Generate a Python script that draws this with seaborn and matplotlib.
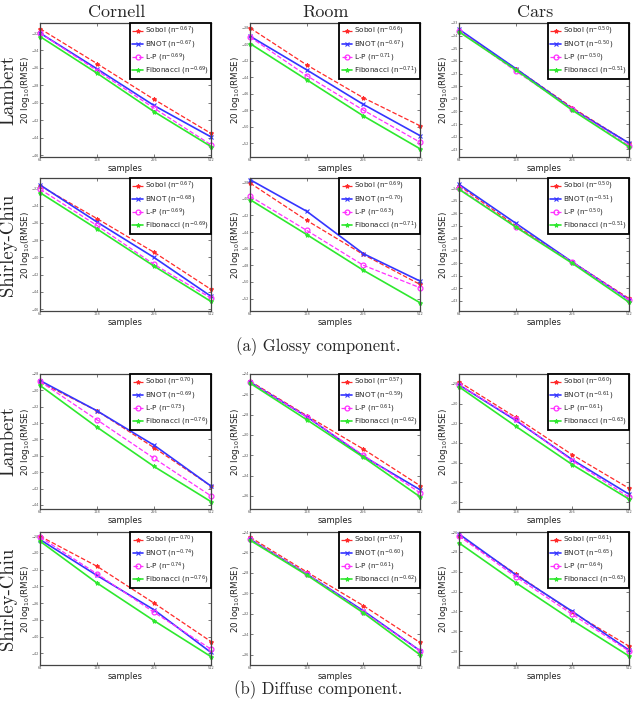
import numpy as np
import pandas as pd
import seaborn as sns
import matplotlib
matplotlib.use("Agg")
import matplotlib.pyplot as plt
from matplotlib.ticker import FixedLocator, FixedFormatter, MultipleLocator, NullLocator

sns.set_theme(style="ticks")
plt.rcParams['font.family'] = ['DejaVu Sans']

samples = [64, 128, 256, 512]
methods = ["Sobol", "BNOT", "L-P", "Fibonacci"]
scenes = ["Cornell", "Room", "Cars"]
row_names = ["Lambert", "Shirley-Chiu", "Lambert", "Shirley-Chiu"]
captions = ["(a) Glossy component.", "(b) Diffuse component."]

# values: 20 log10(RMSE), per method [Sobol, BNOT, L-P, Fibonacci]
glossy_lambert_cornell = [[-31.5, -35.5, -39.6, -43.5], [-32.0, -36.1, -40.3, -43.9],
                          [-32.0, -36.3, -40.6, -44.8], [-32.4, -36.6, -41.0, -45.0]]
glossy_lambert_room = [[-38.0, -42.5, -46.5, -49.9], [-39.0, -43.1, -47.3, -51.1],
                       [-39.1, -43.8, -48.0, -51.9], [-39.9, -44.3, -48.7, -52.7]]
glossy_lambert_cars = [[-33.6, -36.6, -39.7, -42.5], [-33.5, -36.6, -39.8, -42.5],
                       [-33.6, -36.8, -39.8, -42.7], [-33.7, -36.7, -39.9, -42.8]]
glossy_sc_cornell = [[-31.7, -35.5, -39.4, -43.7], [-31.6, -35.9, -40.0, -44.5],
                     [-32.1, -36.3, -40.8, -44.7], [-32.5, -36.7, -41.0, -45.1]]
glossy_sc_room = [[-38.1, -42.6, -46.7, -50.3], [-37.7, -41.5, -46.6, -49.9],
                  [-39.7, -43.8, -48.0, -50.7], [-40.1, -44.3, -48.6, -52.5]]
glossy_sc_cars = [[-33.8, -37.0, -39.9, -42.8], [-33.7, -36.8, -39.9, -42.9],
                  [-34.0, -37.1, -39.9, -42.9], [-34.1, -37.1, -40.0, -43.1]]
diffuse_lambert_cornell = [[-29.0, -32.5, -37.0, -41.7], [-28.8, -32.5, -36.7, -41.7],
                           [-28.9, -33.6, -38.3, -42.9], [-29.4, -34.5, -39.3, -43.6]]
diffuse_lambert_room = [[-24.7, -28.1, -31.4, -35.0], [-24.8, -28.2, -32.1, -35.4],
                        [-24.8, -28.2, -32.0, -35.7], [-24.9, -28.5, -32.2, -36.1]]
diffuse_lambert_cars = [[-27.8, -31.4, -35.2, -38.6], [-28.1, -31.7, -35.7, -39.2],
                        [-28.1, -31.6, -35.8, -39.5], [-28.3, -32.3, -36.2, -39.7]]
diffuse_sc_cornell = [[-28.0, -31.6, -36.0, -40.6], [-28.4, -32.7, -36.8, -41.9],
                      [-28.1, -32.5, -37.1, -41.5], [-28.6, -33.6, -38.1, -42.4]]
diffuse_sc_room = [[-24.5, -27.9, -31.2, -34.8], [-24.7, -28.1, -31.7, -35.6],
                   [-24.7, -28.1, -31.8, -35.6], [-24.8, -28.2, -31.9, -36.0]]
diffuse_sc_cars = [[-26.4, -30.2, -34.1, -37.5], [-26.2, -30.3, -34.0, -37.9],
                   [-26.4, -30.5, -34.3, -38.0], [-27.1, -31.1, -34.9, -38.5]]

# fitted exponents shown in legends
exp_glossy_lambert = [[-0.67, -0.67, -0.69, -0.69], [-0.66, -0.67, -0.71, -0.71], [-0.50, -0.50, -0.50, -0.51]]
exp_glossy_sc = [[-0.67, -0.68, -0.69, -0.69], [-0.69, -0.70, -0.63, -0.71], [-0.50, -0.51, -0.50, -0.51]]
exp_diffuse_lambert = [[-0.70, -0.69, -0.73, -0.76], [-0.57, -0.59, -0.61, -0.62], [-0.60, -0.61, -0.61, -0.63]]
exp_diffuse_sc = [[-0.70, -0.74, -0.74, -0.76], [-0.57, -0.60, -0.61, -0.62], [-0.61, -0.65, -0.64, -0.63]]

panel_values = [
    [glossy_lambert_cornell, glossy_lambert_room, glossy_lambert_cars],
    [glossy_sc_cornell, glossy_sc_room, glossy_sc_cars],
    [diffuse_lambert_cornell, diffuse_lambert_room, diffuse_lambert_cars],
    [diffuse_sc_cornell, diffuse_sc_room, diffuse_sc_cars],
]
panel_exps = [exp_glossy_lambert, exp_glossy_sc, exp_diffuse_lambert, exp_diffuse_sc]
panel_ylims = [
    [(-46.2, -30.85), (-53.7, -37.4), (-43.6, -33.0)],
    [(-46.2, -30.8), (-53.5, -37.5), (-43.8, -33.2)],
    [(-44.5, -28.0), (-37.3, -24.0), (-40.7, -27.0)],
    [(-43.4, -27.5), (-37.0, -24.0), (-39.4, -26.0)],
]
panel_ystep = [[2, 2, 1], [2, 2, 1], [2, 2, 2], [2, 2, 2]]

# styles
colors = ["#ff2a2a", "#3535ff", "#ff30ff", "#2ee82e"]
lstyles = ["--", "-", "--", "-"]
markers = ["*", "x", "o", "*"]
msizes = [3.0, 2.8, 3.5, 3.0]
lwidths = [0.9, 1.2, 0.9, 1.2]

W, H = 635, 703
fig = plt.figure(figsize=(W / 100, H / 100), dpi=100)

col_x = [(40, 211), (250, 420), (459, 629)]
row_y = [(23, 157), (178, 311), (374, 509), (532, 665)]

for r in range(4):
    for c in range(3):
        x0, x1 = col_x[c]
        y0, y1 = row_y[r]
        ax = fig.add_axes([x0 / W, 1 - y1 / H, (x1 - x0) / W, (y1 - y0) / H])
        vals = panel_values[r][c]
        exps = panel_exps[r][c]
        for k, m in enumerate(methods):
            df = pd.DataFrame({"samples": samples, "err": vals[k]})
            lab = m + " ($\\mathregular{n^{%.2f}}$)" % exps[k]
            kw = dict(markerfacecolor="none", markeredgewidth=0.9) if markers[k] == "o" else dict(markeredgewidth=0.8)
            sns.lineplot(data=df, x="samples", y="err", ax=ax, color=colors[k],
                         linestyle=lstyles[k], marker=markers[k], markersize=msizes[k],
                         linewidth=lwidths[k], label=lab, clip_on=False,
                         markeredgecolor=colors[k], **kw)
        ax.set_xscale("log", base=2)
        ax.set_xlim(64, 512)
        ax.xaxis.set_major_locator(FixedLocator(samples))
        ax.xaxis.set_major_formatter(FixedFormatter([str(s) for s in samples]))
        ax.xaxis.set_minor_locator(NullLocator())
        ax.set_ylim(*panel_ylims[r][c])
        ax.yaxis.set_major_locator(MultipleLocator(panel_ystep[r][c]))
        ax.tick_params(axis="both", which="both", direction="in", top=True, right=True,
                       length=2, width=0.5, labelsize=2.5, pad=0.8, colors="#444444",
                       labelcolor="#555555")
        for sp in ax.spines.values():
            sp.set_color("#444444")
            sp.set_linewidth(0.9)
        ax.set_xlabel("samples", fontsize=6, labelpad=1.5, color="#222222")
        ax.set_ylabel("20 log$_{10}$(RMSE)", fontsize=6.3, color="#222222")
        ax.yaxis.label.set_va("center")
        ax.yaxis.set_label_coords(-15.0 / (x1 - x0), 0.5)
        leg = ax.legend(loc="upper right", fontsize=5.2, frameon=True, fancybox=False,
                        borderaxespad=0, handlelength=1.5, handletextpad=0.25,
                        labelspacing=0.12, borderpad=0.3)
        leg.get_frame().set_edgecolor("black")
        leg.get_frame().set_linewidth(1.3)
        leg.get_frame().set_alpha(1)

serif = "cmr10"
col_cx = [117, 326, 535]
for c, name in enumerate(scenes):
    fig.text(col_cx[c] / W, 1 - 12 / H, name, ha="center", va="center",
             fontsize=13, family=serif)
for r, name in enumerate(row_names):
    yc = (row_y[r][0] + row_y[r][1]) / 2
    fig.text(8 / W, 1 - yc / H, name, ha="center", va="center", rotation=90,
             fontsize=13.5, family=serif)
fig.text(318 / W, 1 - 347 / H, captions[0], ha="center", va="center", fontsize=12, family=serif)
fig.text(318 / W, 1 - 690 / H, captions[1], ha="center", va="center", fontsize=12, family=serif)

fig.savefig("out.png", dpi=100)
